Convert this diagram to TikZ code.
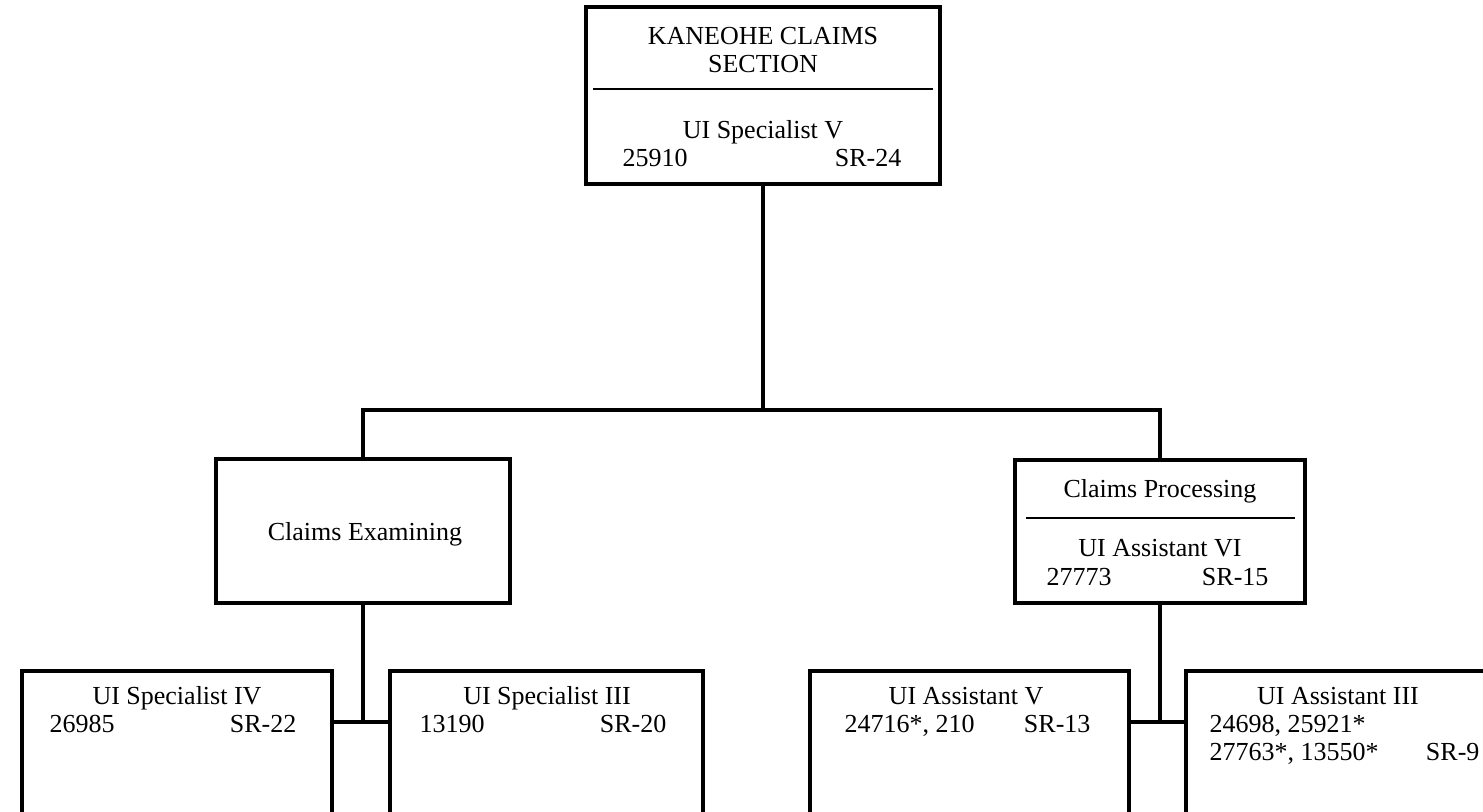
\documentclass[tikz,border=0pt]{standalone}
\usepackage{fontspec}
\setmainfont{Liberation Serif}
\begin{document}
\begin{tikzpicture}[x=0.5pt,y=-0.5pt,line width=1.6pt,
  box/.style={draw,rectangle,inner sep=0pt,outer sep=0pt},
  txt/.style={font=\fontsize{13}{15}\selectfont,inner sep=0pt,anchor=base},
  txtl/.style={txt,anchor=base west},
  txtr/.style={txt,anchor=base east},
  rule/.style={line width=1.3pt}]
\useasboundingbox (0,0) rectangle (1483,812);
\clip (0,0) rectangle (1483,812);

% section head
\node[box,minimum width=177pt,minimum height=88.5pt] (top) at (763,95.5) {};
\node[txt] (topa) at (763,45) {KANEOHE CLAIMS};
\node[txt] (topb) at (763,73) {SECTION};
\draw[rule] (593,89) -- (933,89);
\node[txt] (topc) at (763,139) {UI Specialist V};
\node[txtl] (topd) at (621,167) {25910};
\node[txtr] (tope) at (903,167) {SR-24};

% units
\node[box,minimum width=147pt,minimum height=72pt] (ce) at (363,531) {};
\node[txt] (cea) at (365,540) {Claims Examining};

\node[box,minimum width=145pt,minimum height=71.5pt] (cp) at (1160,531.5) {};
\node[txt] (cpa) at (1160,497) {Claims Processing};
\draw[rule] (1026,518) -- (1295,518);
\node[txt] (cpb) at (1160,556) {UI Assistant VI};
\node[txtl] (cpc) at (1045,585) {27773};
\node[txtr] (cpd) at (1270,585) {SR-15};

% positions
\node[box,minimum width=155pt,minimum height=114.5pt] (s4) at (177,785.5) {};
\node[txt] (s4a) at (177,704) {UI Specialist IV};
\node[txtl] (s4b) at (48,732) {26985};
\node[txtr] (s4c) at (298,732) {SR-22};

\node[box,minimum width=156.5pt,minimum height=114.5pt] (s3) at (546.5,785.5) {};
\node[txt] (s3a) at (547,704) {UI Specialist III};
\node[txtl] (s3b) at (418,732) {13190};
\node[txtr] (s3c) at (668,732) {SR-20};

\node[box,minimum width=159.5pt,minimum height=114.5pt] (a5) at (969.5,785.5) {};
\node[txt] (a5a) at (966,704) {UI Assistant V};
\node[txtl] (a5b) at (843,732) {24716*, 210};
\node[txtr] (a5c) at (1092,732) {SR-13};

\node[box,minimum width=187pt,minimum height=114.5pt] (a3) at (1373,785.5) {};
\node[txt] (a3a) at (1338,704) {UI Assistant III};
\node[txtl] (a3b) at (1208,732) {24698, 25921*};
\node[txtl] (a3c) at (1208,760) {27763*, 13550*};
\node[txtr] (a3d) at (1481,760) {SR-9};

% connectors
\coordinate (bus) at (763,410);
\coordinate (jl) at (363,722);
\coordinate (jr) at (1160,722);
\draw (top.south) -- (bus);
\draw (ce.north) |- (bus) -| (cp.north);
\draw (ce.south) -- (jl);
\draw (s4.east |- jl) -- (s3.west |- jl);
\draw (cp.south) -- (jr);
\draw (a5.east |- jr) -- (a3.west |- jr);
\end{tikzpicture}
\end{document}
